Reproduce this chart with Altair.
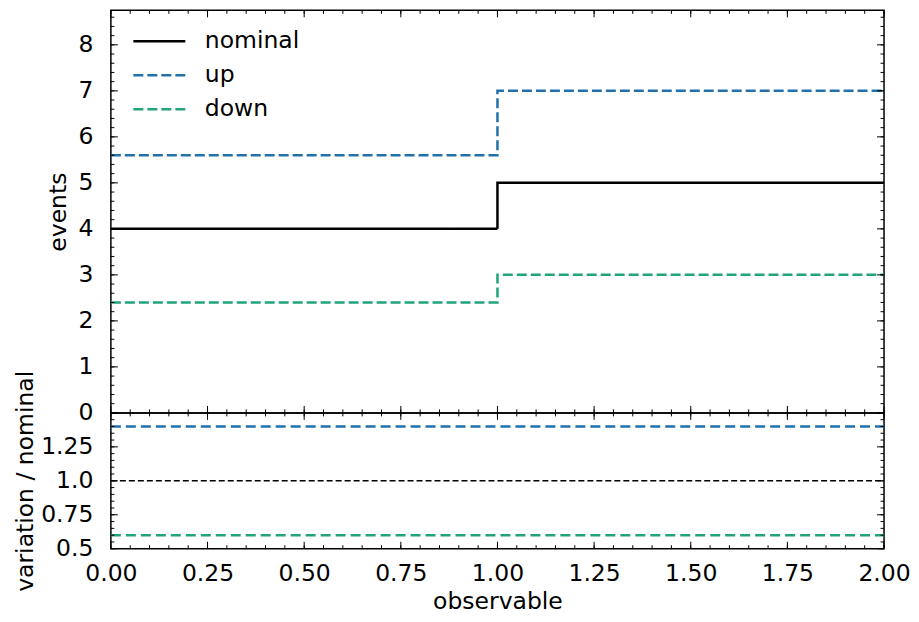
import altair as alt
import pandas as pd
import numpy as np

# ---- data ----
bin_edges = [0.0, 1.0, 2.0]
nominal = [4.0, 5.0]
up = [5.6, 7.0]
down = [2.4, 3.0]
ratio_nominal = [1.0, 1.0]
ratio_up = [1.4, 1.4]
ratio_down = [0.6, 0.6]

series_names = ["nominal", "up", "down"]
series_colors = ["#000000", "#2171ad", "#21a37c"]

x_major = [0.0, 0.25, 0.5, 0.75, 1.0, 1.25, 1.5, 1.75, 2.0]
y_top_major = [0, 1, 2, 3, 4, 5, 6, 7, 8]
y_bot_major = [0.5, 0.75, 1.0, 1.25, 1.5]
y_bot_labelled = [0.5, 0.75, 1.0, 1.25]

x_minor = [round(v, 3) for v in np.arange(0, 2.0001, 0.05)]
y_top_minor = [round(v, 3) for v in np.arange(0, 8.75, 0.2)]
y_bot_minor = [round(v, 3) for v in np.arange(0.5, 1.5001, 0.05)]

X_DOM = [0, 2]
Y_TOP_DOM = [0, 8.75]
Y_BOT_DOM = [0.5, 1.5]

W = 774
H_TOP = 403
H_BOT = 136
FONT = "DejaVu Sans"
FS = 23.5
MAJ = 7
MIN = 3.5


def step_rows(name, vals):
    vals_ext = list(vals) + [vals[-1]]
    return [{"series": name, "x": e, "y": v, "i": k} for k, (e, v) in enumerate(zip(bin_edges, vals_ext))]


top_df = pd.DataFrame(step_rows("nominal", nominal) + step_rows("up", up) + step_rows("down", down))

xs = alt.Scale(domain=X_DOM, nice=False, zero=False)
ys_top = alt.Scale(domain=Y_TOP_DOM, nice=False, zero=False)
ys_bot = alt.Scale(domain=Y_BOT_DOM, nice=False, zero=False)


def tick_layers(xscale, yscale, xmaj, xmin, ymaj, ymin, h):
    layers = []
    for vals, L in ((xmin, MIN), (xmaj, MAJ)):
        d = pd.DataFrame({"v": vals})
        base = alt.Chart(d).mark_rule(color="black", strokeWidth=1)
        layers.append(base.encode(x=alt.X("v:Q", scale=xscale, axis=None), y=alt.value(0), y2=alt.value(L)))
        layers.append(base.encode(x=alt.X("v:Q", scale=xscale, axis=None), y=alt.value(h), y2=alt.value(h - L)))
    for vals, L in ((ymin, MIN), (ymaj, MAJ)):
        d = pd.DataFrame({"v": vals})
        base = alt.Chart(d).mark_rule(color="black", strokeWidth=1)
        layers.append(base.encode(y=alt.Y("v:Q", scale=yscale, axis=None), x=alt.value(0), x2=alt.value(L)))
        layers.append(base.encode(y=alt.Y("v:Q", scale=yscale, axis=None), x=alt.value(W), x2=alt.value(W - L)))
    return layers


legend_kw = dict(title=None, orient="none", legendX=21, legendY=14,
                 symbolType="stroke", symbolSize=2704, symbolStrokeWidth=2.5,
                 labelFontSize=FS, labelFont=FONT, labelOffset=18,
                 clipHeight=34, rowPadding=0, padding=0)

top_lines = alt.Chart(top_df).mark_line(interpolate="step-after", strokeWidth=2.5).encode(
    x=alt.X("x:Q", scale=xs, axis=None),
    y=alt.Y("y:Q", scale=ys_top,
            axis=alt.Axis(title="events", values=y_top_major, format="d",
                          labelPadding=18, titlePadding=40, minExtent=0, maxExtent=0)),
    color=alt.Color("series:N", scale=alt.Scale(domain=series_names, range=series_colors),
                    legend=alt.Legend(**legend_kw)),
    strokeDash=alt.StrokeDash("series:N", scale=alt.Scale(domain=series_names, range=[[1, 0], [10, 4], [10, 4]]),
                              legend=alt.Legend(**legend_kw)),
    order=alt.Order("i:Q"),
)

top = alt.layer(top_lines, *tick_layers(xs, ys_top, x_major, x_minor, y_top_major, y_top_minor, H_TOP)).resolve_axis(
    x="independent", y="independent").properties(width=W, height=H_TOP)


def ratio_layer(vals, color, dash, sw, with_axes):
    d = pd.DataFrame(step_rows("r", vals))
    xa = alt.Axis(title="observable", values=x_major, format=".2f", labelPadding=13,
                  titlePadding=41, minExtent=0, maxExtent=0) if with_axes else None
    ya = alt.Axis(title="variation / nominal", values=y_bot_labelled,
                  labelExpr="datum.value == 1 ? '1.0' : toString(datum.value)",
                  labelPadding=18, titlePadding=73, minExtent=0, maxExtent=0) if with_axes else None
    return alt.Chart(d).mark_line(interpolate="step-after", strokeWidth=sw, strokeDash=dash, color=color).encode(
        x=alt.X("x:Q", scale=xs, axis=xa),
        y=alt.Y("y:Q", scale=ys_bot, axis=ya),
        order=alt.Order("i:Q"),
    )


bottom = alt.layer(
    ratio_layer(ratio_nominal, "#000000", [6, 3], 1.5, True),
    ratio_layer(ratio_up, series_colors[1], [10, 5], 2.5, False),
    ratio_layer(ratio_down, series_colors[2], [10, 5], 2.5, False),
    *tick_layers(xs, ys_bot, x_major, x_minor, y_bot_major, y_bot_minor, H_BOT),
).resolve_axis(x="independent", y="independent").properties(width=W, height=H_BOT)

chart = alt.vconcat(top, bottom, spacing=0, bounds="flush").properties(
    padding={"left": 5, "top": 0, "right": 0, "bottom": 0}
).configure_view(
    stroke="black", strokeWidth=1.5
).configure_axis(
    grid=False, domain=False, ticks=False,
    labelFont=FONT, labelFontSize=FS, labelColor="black",
    titleFont=FONT, titleFontSize=FS, titleColor="black", titleFontWeight="normal",
    labelFlush=False, labelOverlap=False,
).configure_legend(
    labelColor="black"
)

chart.save("out.html", embed_options={"renderer": "svg", "actions": False})
